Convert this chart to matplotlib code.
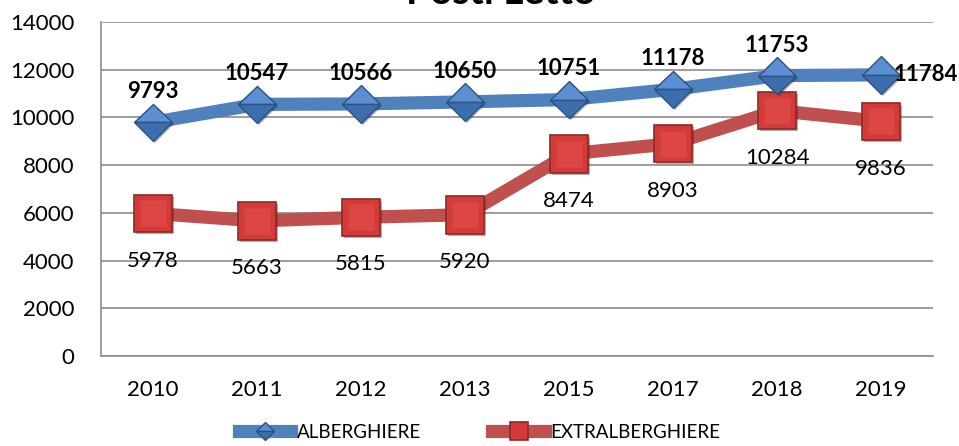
import matplotlib
matplotlib.use('Agg')
import matplotlib.pyplot as plt
import matplotlib.patheffects as pe

plt.rcParams['font.family'] = ['Lato', 'DejaVu Sans']

years = ['2010', '2011', '2012', '2013', '2015', '2017', '2018', '2019']
alberghiere = [9793, 10547, 10566, 10650, 10751, 11178, 11753, 11784]
extralberghiere = [5978, 5663, 5815, 5920, 8474, 8903, 10284, 9836]
y_ticks = [0, 2000, 4000, 6000, 8000, 10000, 12000, 14000]

BLUE = '#4f81bd'
RED = '#c0504d'
GRID = '#8c8c8c'

fig = plt.figure(figsize=(9.59, 4.46), dpi=100)
ax = fig.add_axes([0.1053, 0.2018, 0.8677, 0.7489])

x = list(range(len(years)))
shadow = [pe.SimplePatchShadow(offset=(1.5, -1.5), alpha=0.35), pe.Normal()]

blue_style = dict(marker='D', ms=19, mfc='#5b8fd2', mfcalt='#3c6eae',
                  fillstyle='top', mec='#2c5282', mew=1.0)
red_style = dict(marker='s', ms=27, mfc='#d33b39', mec='#8c2a28', mew=1.2)

# thick lines first, then the markers on top with a soft shadow
ax.plot(x, alberghiere, color=BLUE, lw=9.5, solid_capstyle='butt', zorder=3)
ax.plot(x, extralberghiere, color=RED, lw=9.5, solid_capstyle='butt', zorder=2)
ax.plot(x, alberghiere, ls='none', zorder=5, path_effects=shadow, **blue_style)
ax.plot(x, extralberghiere, ls='none', zorder=4, path_effects=shadow, **red_style)
# lighter inner face on the squares
ax.plot(x, extralberghiere, ls='none', marker='s', ms=19, mfc='#dc4643',
        mec='none', zorder=4.5)

# legend proxies
ax.plot([], [], color=BLUE, lw=9.5, label='ALBERGHIERE', **blue_style)
ax.plot([], [], color=RED, lw=9.5, label='EXTRALBERGHIERE', **red_style)

# data labels: bold above for hotels, plain below for other lodgings
for i, v in enumerate(alberghiere):
    if i == len(alberghiere) - 1:
        ax.annotate(f'{v}', (i, v), xytext=(9, 0), textcoords='offset points',
                    ha='left', va='center', fontsize=16, fontweight='bold', zorder=6)
    else:
        ax.annotate(f'{v}', (i, v), xytext=(0, 22), textcoords='offset points',
                    ha='center', va='center', fontsize=16, fontweight='bold', zorder=6)
for i, v in enumerate(extralberghiere):
    ax.annotate(f'{v}', (i, v), xytext=(0, -34), textcoords='offset points',
                ha='center', va='center', fontsize=16, zorder=6)

ax.set_xlim(-0.5, len(years) - 0.5)
ax.set_ylim(0, 14000)
ax.set_yticks(y_ticks)
ax.set_yticklabels([str(t) for t in y_ticks])
ax.set_xticks(x)
ax.set_xticklabels(years)
ax.tick_params(axis='both', length=0, labelsize=16)
ax.tick_params(axis='y', pad=19)
ax.tick_params(axis='x', pad=17)

ax.grid(axis='y', color=GRID, lw=1.2)
ax.set_axisbelow(True)
for side in ('top', 'right'):
    ax.spines[side].set_visible(False)
for side in ('left', 'bottom'):
    ax.spines[side].set_color(GRID)
    ax.spines[side].set_linewidth(1.2)

fig.text(0.522, 0.99, 'Posti Letto', ha='center', va='baseline',
         fontsize=28, fontweight='bold')

fig.legend(loc='center', bbox_to_anchor=(0.5, 0.031), ncol=2, frameon=False,
           fontsize=13.5, handlelength=2.8, handletextpad=0.3, columnspacing=3.8,
           markerscale=0.5)

fig.savefig('out.png', dpi=100)
